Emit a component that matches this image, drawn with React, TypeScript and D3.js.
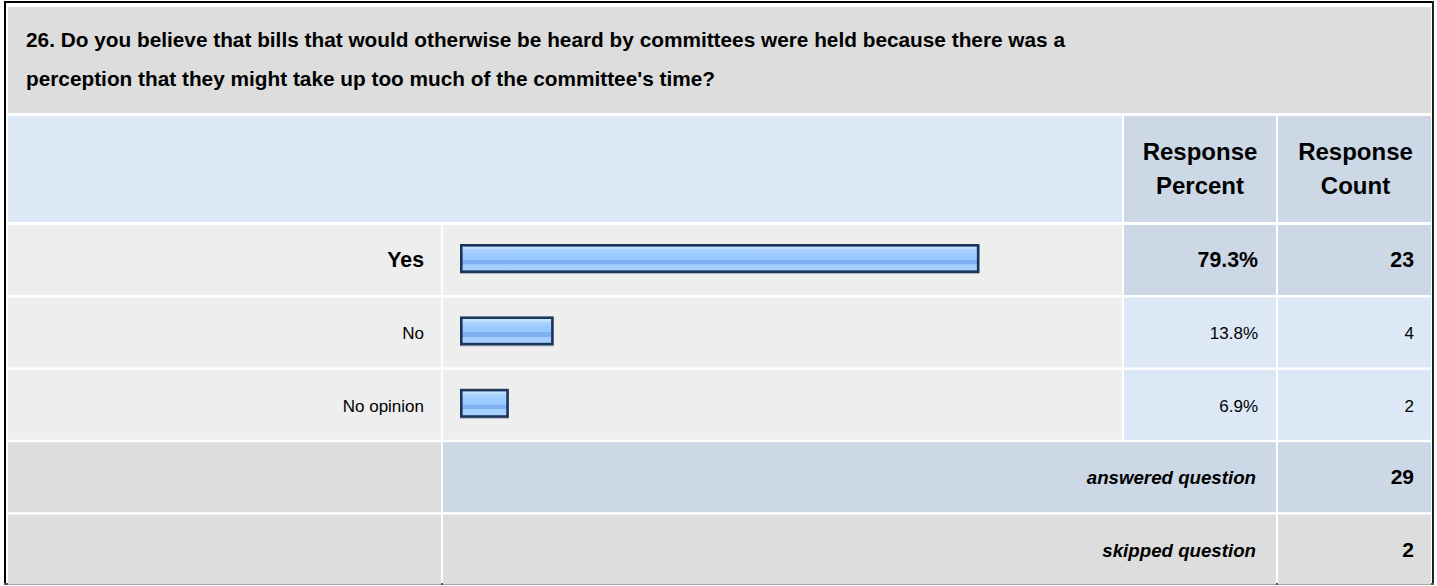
import React from "react";
import * as d3 from "d3";

const titleLines = [
  "26. Do you believe that bills that would otherwise be heard by committees were held because there was a",
  "perception that they might take up too much of the committee's time?",
];
const answers = ["Yes", "No", "No opinion"];
const percents = [79.3, 13.8, 6.9];
const counts = [23, 4, 2];
const summaryLabels = ["answered question", "skipped question"];
const summaryValues = [29, 2];
const headerPercent = ["Response", "Percent"];
const headerCount = ["Response", "Count"];

const W = 1437;
const H = 586;
const FONT = "Arial, 'Liberation Sans', Helvetica, sans-serif";

export default function App() {
  const x = d3.scaleLinear().domain([0, 100]).range([0, 650]);
  const rowY = d3
    .scaleBand<number>()
    .domain(d3.range(5))
    .range([225, 585])
    .paddingInner(2 / 72)
    .paddingOuter(0);
  const maxIdx = percents.indexOf(d3.max(percents) as number);

  const colLabel = [8, 441];
  const colBar = [443, 1122];
  const colPct = [1124, 1276];
  const colCnt = [1278, 1431];

  const rowH = 70;

  return (
    <svg
      width={W}
      height={H}
      style={{ position: "absolute", left: 0, top: 0, background: "#fff" }}
      fontFamily={FONT}
    >
      <defs>
        <linearGradient id="barGrad" x1="0" y1="0" x2="0" y2="1">
          <stop offset="0" stopColor="#c4e0ff" />
          <stop offset="0.14" stopColor="#c4e0ff" />
          <stop offset="0.15" stopColor="#acd4ff" />
          <stop offset="0.3" stopColor="#9fcdff" />
          <stop offset="0.55" stopColor="#97c7ff" />
          <stop offset="0.56" stopColor="#7db1f2" />
          <stop offset="0.72" stopColor="#7db1f2" />
          <stop offset="0.73" stopColor="#a3cfff" />
          <stop offset="1" stopColor="#a8d2ff" />
        </linearGradient>
      </defs>
      {/* outer frame */}
      <rect x={4} y={1} width={1430} height={584} fill="#fff" />
      <line x1={5} y1={1} x2={5} y2={585} stroke="#000" strokeWidth={2} />
      <line x1={4} y1={2} x2={1434} y2={2} stroke="#000" strokeWidth={2} />
      <line x1={1433} y1={1} x2={1433} y2={585} stroke="#222" strokeWidth={2} />
      <line x1={4} y1={584} x2={1434} y2={584} stroke="#555" strokeWidth={2} />

      {/* title */}
      <rect x={8} y={7} width={1423} height={106} fill="#dddddd" />
      {titleLines.map((t, i) => (
        <text key={i} x={26} y={47 + i * 39} fontSize={20.8} fontWeight="bold" fill="#000">
          {t}
        </text>
      ))}

      {/* header row */}
      <rect x={8} y={116} width={colBar[1] - 8} height={106} fill="#dce8f5" />
      <rect x={colPct[0]} y={116} width={colPct[1] - colPct[0]} height={106} fill="#ccd8e6" />
      <rect x={colCnt[0]} y={116} width={colCnt[1] - colCnt[0]} height={106} fill="#ccd8e6" />
      {headerPercent.map((t, i) => (
        <text key={"hp" + i} x={(colPct[0] + colPct[1]) / 2} y={160 + i * 34} textAnchor="middle" fontSize={24} fontWeight="bold">
          {t}
        </text>
      ))}
      {headerCount.map((t, i) => (
        <text key={"hc" + i} x={(colCnt[0] + colCnt[1]) / 2 + 1} y={160 + i * 34} textAnchor="middle" fontSize={24} fontWeight="bold">
          {t}
        </text>
      ))}

      {/* answer rows */}
      {answers.map((a, i) => {
        const y0 = rowY(i) as number;
        const bold = i === maxIdx;
        const cellFill = bold ? "#ccd8e6" : "#dce8f5";
        const cy = y0 + rowH / 2;
        const bw = x(percents[i]) + 4;
        const fs = bold ? 21.3 : 17;
        const fw = bold ? "bold" : "normal";
        return (
          <g key={a}>
            <rect x={colLabel[0]} y={y0} width={colLabel[1] - colLabel[0]} height={rowH} fill="#eeeeee" />
            <rect x={colBar[0]} y={y0} width={colBar[1] - colBar[0]} height={rowH} fill="#eeeeee" />
            <rect x={colPct[0]} y={y0} width={colPct[1] - colPct[0]} height={rowH} fill={cellFill} />
            <rect x={colCnt[0]} y={y0} width={colCnt[1] - colCnt[0]} height={rowH} fill={cellFill} />
            <text x={424} y={cy + 7} textAnchor="end" fontSize={fs} fontWeight={fw}>
              {a}
            </text>
            <rect x={460} y={y0 + 20} width={bw} height={29} fill="rgba(40,60,90,0.3)" />
            <rect
              x={461.3}
              y={y0 + 20.3}
              width={bw - 2.6}
              height={26.4}
              fill="url(#barGrad)"
              stroke="#1c355a"
              strokeWidth={2.6}
            />
            <text x={1258} y={cy + 7} textAnchor="end" fontSize={fs} fontWeight={fw}>
              {percents[i].toFixed(1) + "%"}
            </text>
            <text x={1414} y={cy + 7} textAnchor="end" fontSize={fs} fontWeight={fw}>
              {counts[i]}
            </text>
          </g>
        );
      })}

      {/* summary rows */}
      {summaryLabels.map((s, j) => {
        const y0 = rowY(3 + j) as number;
        const cy = y0 + rowH / 2;
        const mid = j === 0 ? "#ccd8e6" : "#dddddd";
        return (
          <g key={s}>
            <rect x={colLabel[0]} y={y0} width={colLabel[1] - colLabel[0]} height={rowH} fill="#dddddd" />
            <rect x={colBar[0]} y={y0} width={colPct[1] - colBar[0]} height={rowH} fill={mid} />
            <rect x={colCnt[0]} y={y0} width={colCnt[1] - colCnt[0]} height={rowH} fill={mid} />
            <text x={1256} y={cy + 7} textAnchor="end" fontSize={18.7} fontWeight="bold" fontStyle="italic">
              {s}
            </text>
            <text x={1414} y={cy + 7} textAnchor="end" fontSize={21} fontWeight="bold">
              {summaryValues[j]}
            </text>
          </g>
        );
      })}
    </svg>
  );
}
